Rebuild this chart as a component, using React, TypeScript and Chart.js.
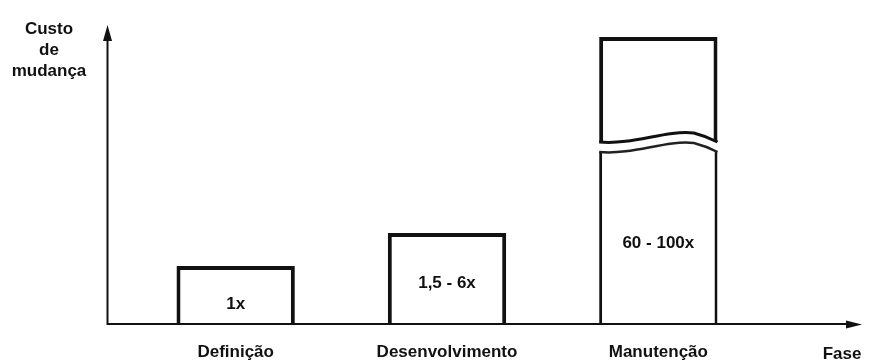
import React, { useEffect, useRef } from "react";
import { Chart, registerables } from "chart.js";

Chart.register(...registerables);

const categories = ["Definição", "Desenvolvimento", "Manutenção"];
const baseValues = [58, 91, 172];
const upperStart = [null, null, 182];
const upperEnd = [null, null, 287];
const barLabels = ["1x", "1,5 - 6x", "60 - 100x"];
const labelLevels = [20, 41, 81];
const yTitle = ["Custo", "de", "mudança"];
const xTitle = "Fase";

const FONT = '"Liberation Sans", Arial, sans-serif';
const INK = "#111";

const breakIndex = 2;

function wave(ctx: CanvasRenderingContext2D, L: number, R: number, y0: number, startMove: boolean) {
  const W = R - L;
  if (startMove) ctx.moveTo(L, y0);
  ctx.bezierCurveTo(L + 0.3 * W, y0 + 3, L + 0.55 * W, y0 - 12, L + 0.8 * W, y0 - 9);
  ctx.quadraticCurveTo(L + 0.9 * W, y0 - 6, R, y0);
}

const drawPlugin = {
  id: "schematic",
  afterDatasetsDraw(chart: any) {
    const ctx: CanvasRenderingContext2D = chart.ctx;
    const xs = chart.scales.x;
    const ys = chart.scales.y;
    const area = chart.chartArea;
    ctx.save();
    const lowerMeta = chart.getDatasetMeta(0);
    const upperMeta = chart.getDatasetMeta(1);
    const lb = lowerMeta.data[breakIndex];
    if (lb) {
      const L = lb.x - lb.width / 2;
      const R = lb.x + lb.width / 2;
      ctx.strokeStyle = "#222";
      ctx.lineWidth = 2.5;
      ctx.beginPath();
      wave(ctx, L, R, lb.y, true);
      ctx.stroke();
    }
    const ub = upperMeta.data[breakIndex];
    if (ub) {
      const L = ub.x - ub.width / 2;
      const R = ub.x + ub.width / 2;
      ctx.strokeStyle = INK;
      ctx.lineWidth = 3;
      ctx.beginPath();
      wave(ctx, L, R, ub.base, true);
      ctx.stroke();
    }
    const ox = area.left - 22.5;
    const oy = area.bottom;
    ctx.strokeStyle = INK;
    ctx.fillStyle = INK;
    ctx.lineWidth = 2;
    ctx.beginPath();
    ctx.moveTo(ox, oy + 1);
    ctx.lineTo(ox, area.top + 8);
    ctx.stroke();
    ctx.beginPath();
    ctx.moveTo(ox, area.top + 1);
    ctx.lineTo(ox - 4.5, area.top + 17);
    ctx.lineTo(ox + 4.5, area.top + 17);
    ctx.closePath();
    ctx.fill();
    const xEnd = chart.width - 7;
    ctx.beginPath();
    ctx.moveTo(ox, oy);
    ctx.lineTo(xEnd - 8, oy);
    ctx.stroke();
    ctx.beginPath();
    ctx.moveTo(xEnd, oy + 0.5);
    ctx.lineTo(xEnd - 16, oy - 3.5);
    ctx.lineTo(xEnd - 16, oy + 4.5);
    ctx.closePath();
    ctx.fill();
    ctx.font = "bold 17px " + FONT;
    ctx.textAlign = "center";
    ctx.textBaseline = "middle";
    categories.forEach((c, i) => {
      ctx.fillText(c, xs.getPixelForValue(i), oy + 28);
    });
    barLabels.forEach((t, i) => {
      ctx.fillText(t, xs.getPixelForValue(i), ys.getPixelForValue(labelLevels[i]));
    });
    ctx.fillText(xTitle, xEnd - 20, oy + 30);
    yTitle.forEach((t, i) => {
      ctx.fillText(t, 49, 29 + i * 21);
    });
    ctx.restore();
  },
};

export default function App() {
  const ref = useRef<HTMLCanvasElement | null>(null);
  useEffect(() => {
    document.body.style.margin = "0";
    const canvas = ref.current;
    if (!canvas) return;
    const chart = new Chart(canvas, {
      type: "bar",
      data: {
        labels: categories,
        datasets: [
          {
            data: baseValues,
            backgroundColor: "#fff",
            borderColor: INK,
            borderWidth: (c: any) =>
              c.dataIndex === breakIndex
                ? { top: 0, left: 3, right: 3, bottom: 0 }
                : { top: 4, left: 4, right: 4, bottom: 0 },
            borderSkipped: "bottom",
            grouped: false,
            barPercentage: 0.56,
            categoryPercentage: 1,
          } as any,
          {
            data: upperStart.map((s, i) => (s === null ? null : [s, upperEnd[i] as number])),
            backgroundColor: "#fff",
            borderColor: INK,
            borderWidth: { top: 4, left: 4, right: 4, bottom: 0 },
            borderSkipped: "bottom",
            grouped: false,
            barPercentage: 0.56,
            categoryPercentage: 1,
          } as any,
        ],
      },
      options: {
        animation: false,
        responsive: false,
        layout: { padding: { left: 130, right: 105, top: 24, bottom: 38 } },
        plugins: { legend: { display: false }, tooltip: { enabled: false } },
        scales: {
          x: { display: false },
          y: { display: false, min: 0, max: 300 },
        },
      },
      plugins: [drawPlugin],
    });
    return () => chart.destroy();
  }, []);
  return (
    <div style={{ width: 869, height: 362, background: "#fff" }}>
      <canvas ref={ref} width={869} height={362} />
    </div>
  );
}
